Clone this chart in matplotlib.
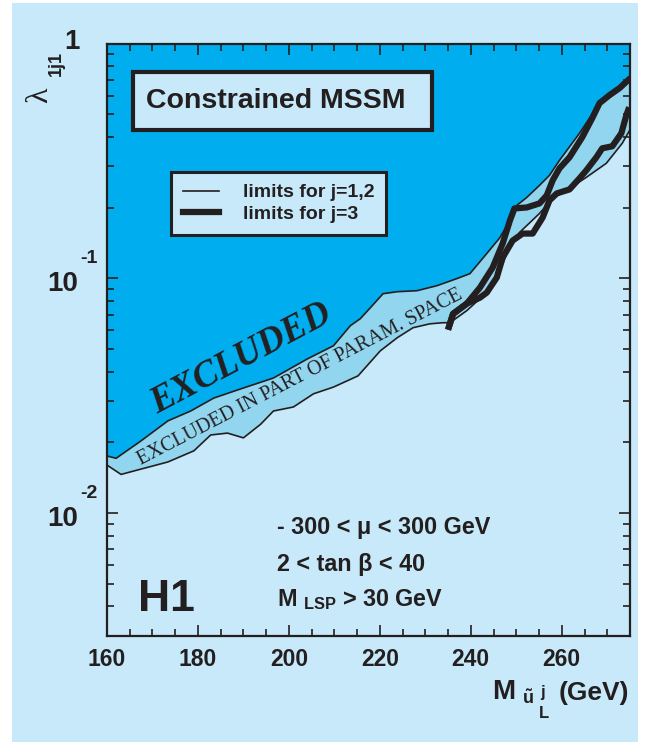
import matplotlib
matplotlib.use("Agg")
import matplotlib.pyplot as plt
from matplotlib.lines import Line2D
from matplotlib.patches import Rectangle
from matplotlib.ticker import MultipleLocator, LogLocator, NullFormatter

plt.rcParams['font.family'] = ['Liberation Sans', 'DejaVu Sans']
plt.rcParams['mathtext.fontset'] = 'custom'
plt.rcParams['mathtext.rm'] = 'Liberation Sans:bold'
plt.rcParams['mathtext.bf'] = 'Liberation Sans:bold'
plt.rcParams['mathtext.it'] = 'Liberation Sans:bold'

# boundary of the fully excluded region (j=1,2)
upper_mass = [160.0, 162.0, 167.5, 173.4, 178.4, 183.5, 190.0, 196.6, 204.1, 209.8, 213.5, 215.7,
              217.9, 220.7, 223.8, 228.2, 232.6, 236.9, 239.8, 243.5, 246.4, 248.6, 250.1, 252.3,
              255.1, 257.3, 259.5, 263.9, 268.3, 272.0, 275.0]
upper_lam = [0.0175, 0.0171, 0.0203, 0.0247, 0.0272, 0.0309, 0.0341, 0.0376, 0.0454, 0.0516, 0.0628, 0.0673,
             0.0749, 0.0860, 0.0877, 0.0886, 0.0931, 0.0997, 0.1047, 0.1275, 0.1492, 0.1764, 0.2045, 0.2212,
             0.249, 0.2748, 0.3184, 0.4153, 0.5579, 0.6218, 0.70]

# boundary of the region excluded in part of parameter space (j=1,2)
lower_mass = [160.0, 163.1, 165.9, 173.4, 179.1, 182.8, 186.5, 190.0, 193.8, 196.6, 201.0, 205.4,
              209.8, 215.2, 220.1, 223.8, 227.3, 231.0, 233.9, 235.4, 239.1, 242.0, 244.2, 246.4,
              247.9, 250.7, 255.1, 258.0, 261.0, 265.4, 269.8, 273.3, 275.0]
lower_lam = [0.0160, 0.0146, 0.0151, 0.0165, 0.0184, 0.0215, 0.0219, 0.0209, 0.0239, 0.0272, 0.0283, 0.0322,
             0.0344, 0.0384, 0.0491, 0.0558, 0.0616, 0.0640, 0.0647, 0.0647, 0.0728, 0.0819, 0.0886, 0.1079,
             0.1275, 0.1568, 0.1890, 0.2191, 0.2370, 0.2694, 0.3093, 0.3763, 0.43]

# limits for j=3
j3a_mass = [235.2, 236.1, 239.1, 242.0, 244.8, 247.0, 248.6, 249.6, 252.3, 255.1, 256.7, 258.0,
            259.5, 261.7, 264.5, 266.7, 268.3, 270.5, 272.7, 274.6]
j3a_lam = [0.0622, 0.0706, 0.0780, 0.0913, 0.1111, 0.1407, 0.1764, 0.1986, 0.2005, 0.2086, 0.2257, 0.2616,
           0.2943, 0.3280, 0.3994, 0.4815, 0.5579, 0.6037, 0.6466, 0.6997]
j3b_mass = [235.2, 236.1, 239.1, 242.0, 243.5, 245.7, 247.0, 249.2, 251.4, 253.6, 255.8, 257.3,
            258.9, 261.7, 263.9, 265.4, 267.6, 268.9, 271.1, 273.1, 274.2, 274.6]
j3b_lam = [0.0622, 0.0706, 0.0780, 0.0827, 0.0869, 0.1007, 0.1226, 0.1449, 0.1552, 0.1552, 0.1817, 0.2148,
           0.2301, 0.2393, 0.2668, 0.2886, 0.3280, 0.3583, 0.3654, 0.4153, 0.4958, 0.5208]

x_ticks = [160, 180, 200, 220, 240, 260]
y_decades = [0.01, 0.1]
y_exps = ['-2', '-1']

BG = '#c8e9f9'
BAND = '#92d5ee'
EXCL = '#00aeef'
INK = '#231f20'

fig = plt.figure(figsize=(6.48, 7.42), dpi=100)
fig.patch.set_facecolor('white')
fig.patches.append(Rectangle((12 / 648, 0), 626 / 648, 739 / 742, transform=fig.transFigure,
                             facecolor=BG, edgecolor='none', zorder=-10))

ax = fig.add_axes([0.1651, 0.1433, 0.8071, 0.7978])
ax.set_facecolor(BG)
ax.set_yscale('log')
ax.set_xlim(160, 275)
ax.set_ylim(0.003, 1)

# filled regions
excl_x = upper_mass + [275, 160]
excl_y = upper_lam + [1, 1]
ax.fill(excl_x, excl_y, color=EXCL, lw=0, zorder=1)
band_x = upper_mass + lower_mass[::-1]
band_y = upper_lam + lower_lam[::-1]
ax.fill(band_x, band_y, color=BAND, lw=0, zorder=1)

ax.plot(upper_mass, upper_lam, color=INK, lw=1.2, zorder=3)
ax.plot(lower_mass, lower_lam, color=INK, lw=1.2, zorder=3)
ax.plot(j3a_mass, j3a_lam, color=INK, lw=4.5, zorder=4, solid_joinstyle='round')
ax.plot(j3b_mass, j3b_lam, color=INK, lw=4.5, zorder=4, solid_joinstyle='round')

# axes styling
for sp in ax.spines.values():
    sp.set_linewidth(1.6)
    sp.set_color(INK)
    sp.set_zorder(6)
ax.xaxis.set_major_locator(MultipleLocator(20))
ax.xaxis.set_minor_locator(MultipleLocator(5))
ax.yaxis.set_major_locator(LogLocator(base=10, numticks=10))
ax.yaxis.set_minor_locator(LogLocator(base=10, subs=range(2, 10), numticks=20))
ax.yaxis.set_major_formatter(NullFormatter())
ax.yaxis.set_minor_formatter(NullFormatter())
ax.tick_params(which='both', direction='in', top=True, right=True, color=INK, width=1.2, zorder=6)
ax.tick_params(which='major', length=8)
ax.tick_params(which='minor', length=5)
ax.tick_params(axis='x', which='major', labelsize=16.5, pad=9, labelcolor=INK)
ax.set_xticks(x_ticks)
ax.set_xticklabels([str(t) for t in x_ticks], fontweight='bold')

# y tick labels as 10 with raised exponent
for val, ex in zip(y_decades, y_exps):
    ax.annotate('10', xy=(0, val), xycoords=('axes fraction', 'data'), xytext=(-21, -4),
                textcoords='offset points', ha='right', va='center', fontsize=20,
                fontweight='bold', color=INK)
    ax.annotate(ex, xy=(0, val), xycoords=('axes fraction', 'data'), xytext=(-19.5, 14),
                textcoords='offset points', ha='left', va='center', fontsize=14,
                fontweight='bold', color=INK)
ax.annotate('1', xy=(0, 1), xycoords=('axes fraction', 'data'), xytext=(-20, 1),
            textcoords='offset points', ha='right', va='center', fontsize=20,
            fontweight='bold', color=INK)

# axis titles
fig.text(40 / 648, 1 - 95 / 742, '\u03bb', family=['Liberation Serif', 'DejaVu Serif'],
         fontsize=23, rotation=90, ha='center', va='center', color=INK)
fig.text(56 / 648, 1 - 64 / 742, '1j1', fontsize=13, fontweight='bold', rotation=90,
         ha='center', va='center', color=INK)
fig.text(515 / 648, 1 - 692 / 742, 'M', fontsize=20, fontweight='bold',
         ha='right', va='center', color=INK)
fig.text(528 / 648, 1 - 699 / 742, r'$\tilde{\rm u}$', fontsize=13,
         ha='center', va='center', color=INK)
fig.text(542 / 648, 1 - 692 / 742, 'j', fontsize=12, fontweight='bold',
         ha='center', va='center', color=INK)
fig.text(544 / 648, 1 - 713 / 742, 'L', fontsize=12, fontweight='bold',
         ha='center', va='center', color=INK)
fig.text(629 / 648, 1 - 693 / 742, '(GeV)', fontsize=19, fontweight='bold',
         ha='right', va='center', color=INK)

# title box
ax.add_patch(Rectangle(((133 - 107) / 523, (635.7 - 130) / 592), 299 / 523, 58 / 592,
                       transform=ax.transAxes, facecolor=BG, edgecolor=INK, lw=3, zorder=7))
ax.text((276 - 107) / 523, (635.7 - 101) / 592, 'Constrained MSSM', transform=ax.transAxes,
        ha='center', va='center', fontsize=20.5, fontweight='bold', color=INK, zorder=8)

# legend
handles = [Line2D([], [], color=INK, lw=1.2), Line2D([], [], color=INK, lw=4.5)]
leg = ax.legend(handles, ['limits for j=1,2', 'limits for j=3'], loc='upper left',
                bbox_to_anchor=(0.1224, 0.783), borderaxespad=0, fancybox=False,
                framealpha=1, facecolor=BG, edgecolor=INK, handlelength=1.85,
                handletextpad=1.25, borderpad=0.6, labelspacing=0.2,
                prop={'size': 14, 'weight': 'bold'})
leg.get_frame().set_linewidth(2.2)
leg.set_zorder(8)
for t in leg.get_texts():
    t.set_color(INK)

# region labels
ax.text(189.4, 0.0454, 'EXCLUDED', family=['Liberation Serif', 'DejaVu Serif'],
        fontsize=26.5, fontweight='bold', style='italic', rotation=28,
        ha='center', va='center', rotation_mode='anchor', color=INK, zorder=5)
ax.text(202.5, 0.0379, 'EXCLUDED IN PART OF PARAM. SPACE', family=['Liberation Serif', 'DejaVu Serif'],
        fontsize=14.5, rotation=27.4, ha='center', va='center', rotation_mode='anchor',
        color=INK, zorder=5)

# parameter ranges
px0 = (277 - 107) / 523
ax.text(px0, (635.7 - 528) / 592, '- 300 < \u03bc < 300 GeV', transform=ax.transAxes,
        fontsize=16.8, fontweight='bold', ha='left', va='center', color=INK)
ax.text(px0, (635.7 - 565) / 592, '2 < tan \u03b2 < 40', transform=ax.transAxes,
        fontsize=16.8, fontweight='bold', ha='left', va='center', color=INK)
ax.text(px0, (635.7 - 600) / 592, r'M $_{\rm LSP}$ > 30 GeV', transform=ax.transAxes,
        fontsize=16.8, fontweight='bold', ha='left', va='center', color=INK)
ax.text((166 - 107) / 523, (635.7 - 600) / 592, 'H1', transform=ax.transAxes,
        fontsize=32, fontweight='bold', ha='center', va='center', color=INK)

fig.savefig('out.png', dpi=100)
